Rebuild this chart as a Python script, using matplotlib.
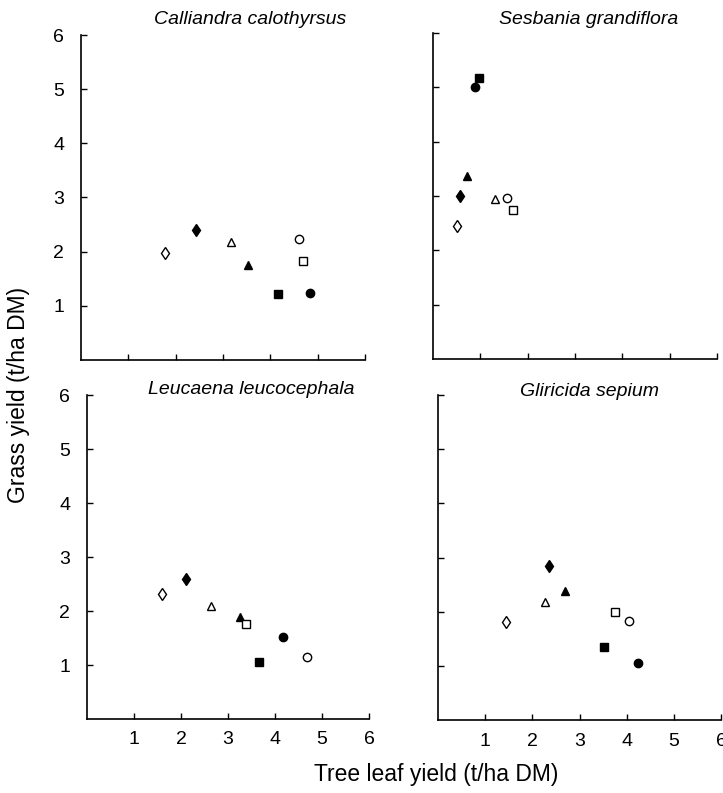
import matplotlib
matplotlib.use("Agg")
import matplotlib.pyplot as plt

plt.rcParams['font.family'] = ['Liberation Sans', 'DejaVu Sans']

# Treatments (marker legend implied): order of series
treat_markers = ['d', 'd', '^', '^', 'o', 'o', 's', 's']
treat_filled = [False, True, False, True, False, True, False, True]
marker_sizes = {'d': 6.5, '^': 6.0, 'o': 6.0, 's': 5.5}

species = ['Calliandra calothyrsus', 'Sesbania grandiflora',
           'Leucaena leucocephala', 'Gliricida sepium']

# tree leaf yield (x) and grass yield (y) per treatment, per species
calliandra_x = [1.78, 2.42, 3.17, 3.52, 4.60, 4.83, 4.69, 4.17]
calliandra_y = [1.98, 2.40, 2.17, 1.75, 2.24, 1.23, 1.82, 1.22]

sesbania_x = [0.51, 0.58, 1.32, 0.71, 1.56, 0.89, 1.68, 0.97]
sesbania_y = [2.44, 3.00, 2.94, 3.37, 2.97, 5.00, 2.74, 5.17]

leucaena_x = [1.60, 2.11, 2.63, 3.26, 4.68, 4.16, 3.38, 3.66]
leucaena_y = [2.31, 2.59, 2.09, 1.89, 1.15, 1.52, 1.76, 1.06]

gliricidia_x = [1.44, 2.36, 2.27, 2.69, 4.05, 4.23, 3.75, 3.52]
gliricidia_y = [1.81, 2.84, 2.17, 2.39, 1.82, 1.06, 1.99, 1.35]

xs = [calliandra_x, sesbania_x, leucaena_x, gliricidia_x]
ys = [calliandra_y, sesbania_y, leucaena_y, gliricidia_y]

ticks = [1, 2, 3, 4, 5, 6]
tick_labels = ['1', '2', '3', '4', '5', '6']

W, H = 723, 793
fig = plt.figure(figsize=(W / 100, H / 100), dpi=100)

# axes boxes in pixels: left, right, top, bottom
boxes = [(81, 365, 35, 360), (433, 717, 33, 359),
         (87, 369, 395, 719), (438, 721, 395, 720)]
title_pos = [(250, 20), (589, 20), (251, 389), (590, 392)]

for i, (l, r, t, b) in enumerate(boxes):
    ax = fig.add_axes([l / W, 1 - b / H, (r - l) / W, (b - t) / H])
    for k in range(len(xs[i])):
        m = treat_markers[k]
        ax.plot(xs[i][k], ys[i][k], linestyle='none',
                marker=m, markersize=marker_sizes[m],
                markerfacecolor='black' if treat_filled[k] else 'white',
                markeredgecolor='black', markeredgewidth=1.0,
                clip_on=False)
    ax.set_xlim(0, 6)
    ax.set_ylim(0, 6)
    for s in ['top', 'right']:
        ax.spines[s].set_visible(False)
    for s in ['left', 'bottom']:
        ax.spines[s].set_linewidth(1.2)
    ax.set_xticks(ticks)
    ax.set_yticks(ticks)
    ax.tick_params(direction='in', length=4, width=1.0, labelsize=14)
    ax.tick_params(axis='y', pad=12)
    ax.tick_params(axis='x', pad=9)
    if i in (2, 3):
        ax.set_xticklabels(tick_labels)
    else:
        ax.set_xticklabels([])
    if i in (0, 2):
        ax.set_yticklabels(tick_labels)
    else:
        ax.set_yticklabels([])
    tx, ty = title_pos[i]
    fig.text(tx / W, 1 - ty / H, species[i], ha='center', va='center',
             fontsize=14, style='italic')

fig.text(19 / W, 1 - 395 / H, 'Grass yield (t/ha DM)', rotation=90,
         ha='center', va='center', fontsize=16.5)
fig.text(436 / W, 1 - 775 / H, 'Tree leaf yield (t/ha DM)',
         ha='center', va='center', fontsize=16.5)

fig.savefig('out.png', dpi=100)
